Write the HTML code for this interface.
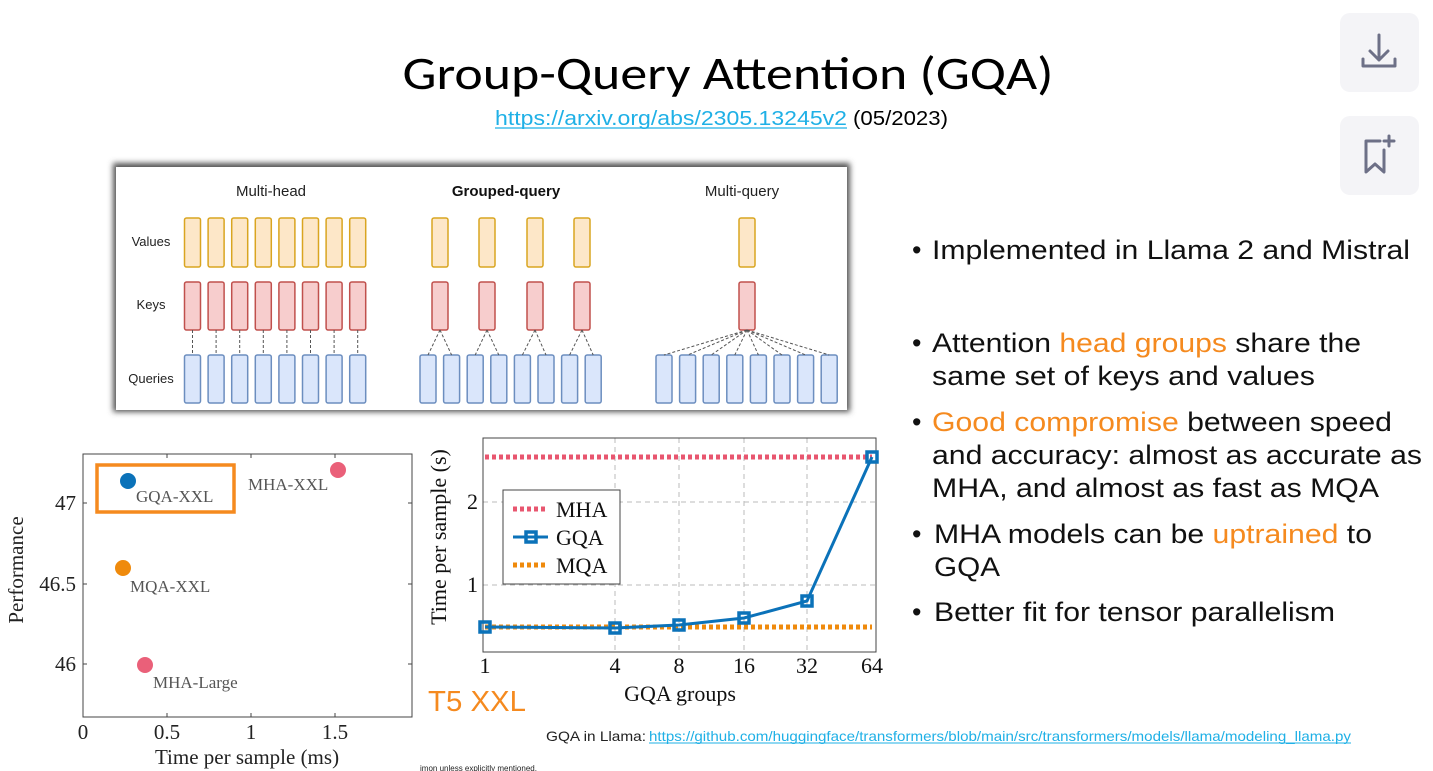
<!DOCTYPE html>
<html><head><meta charset="utf-8"><style>
html,body{margin:0;padding:0;background:#fff;width:1433px;height:771px;overflow:hidden}
svg{display:block}
</style></head><body>
<svg width="1433" height="771" viewBox="0 0 1433 771" xmlns="http://www.w3.org/2000/svg" font-family="Liberation Sans, sans-serif">
<defs>
<filter id="sh" x="-5%" y="-10%" width="110%" height="120%"><feGaussianBlur stdDeviation="3"/></filter>
</defs>
<text x="728" y="89" font-family="Carlito, Liberation Sans, sans-serif" font-size="46" text-anchor="middle" textLength="651" lengthAdjust="spacingAndGlyphs">Group-Query Attention (GQA)</text>
<text x="495" y="125" font-size="20" fill="#1fb0e6" textLength="352" lengthAdjust="spacingAndGlyphs">https://arxiv.org/abs/2305.13245v2</text>
<line x1="495" y1="128" x2="847" y2="128" stroke="#1fb0e6" stroke-width="1.3"/>
<text x="853" y="125" font-size="20" textLength="95" lengthAdjust="spacingAndGlyphs">(05/2023)</text>

<rect x="1340" y="13" width="79" height="79" rx="10" fill="#f4f4f7"/>
<g stroke="#6d7087" stroke-width="3" fill="none" stroke-linecap="round" stroke-linejoin="round">
<path d="M1379 35 V60 M1370 51 L1379 60 L1388 51"/>
<path d="M1363 59 V66 H1395 V59"/>
</g>
<rect x="1340" y="116" width="79" height="79" rx="10" fill="#f4f4f7"/>
<g stroke="#6d7087" stroke-width="3" fill="none" stroke-linecap="round" stroke-linejoin="round">
<path d="M1380 141 H1366 V172 L1375 164 L1384 172 V150"/>
<path d="M1389 136 V146 M1384 141 H1394"/>
</g>

<rect x="113" y="163" width="737" height="249" fill="#555" filter="url(#sh)"/>
<rect x="116" y="167" width="731" height="243" fill="#fff"/>
<text x="271" y="196" font-size="15" text-anchor="middle" fill="#222">Multi-head</text>
<text x="506" y="196" font-size="15" text-anchor="middle" font-weight="bold" fill="#111">Grouped-query</text>
<text x="742" y="196" font-size="15" text-anchor="middle" fill="#222">Multi-query</text>
<text x="151" y="246" font-size="13" text-anchor="middle" fill="#222">Values</text>
<text x="151" y="309" font-size="13" text-anchor="middle" fill="#222">Keys</text>
<text x="151" y="383" font-size="13" text-anchor="middle" fill="#222">Queries</text>

<g fill="#fde7c8" stroke="#d9a520" stroke-width="1.5">
<rect x="184.5" y="218" width="16" height="49" rx="2"/><rect x="208.1" y="218" width="16" height="49" rx="2"/><rect x="231.7" y="218" width="16" height="49" rx="2"/><rect x="255.3" y="218" width="16" height="49" rx="2"/><rect x="278.9" y="218" width="16" height="49" rx="2"/><rect x="302.5" y="218" width="16" height="49" rx="2"/><rect x="326.1" y="218" width="16" height="49" rx="2"/><rect x="349.7" y="218" width="16" height="49" rx="2"/>
<rect x="432" y="218" width="16" height="49" rx="2"/><rect x="479" y="218" width="16" height="49" rx="2"/><rect x="527" y="218" width="16" height="49" rx="2"/><rect x="574" y="218" width="16" height="49" rx="2"/>
<rect x="739" y="218" width="16" height="49" rx="2"/>
</g>
<g fill="#f7cdcd" stroke="#c0504d" stroke-width="1.5">
<rect x="184.5" y="282" width="16" height="48" rx="2"/><rect x="208.1" y="282" width="16" height="48" rx="2"/><rect x="231.7" y="282" width="16" height="48" rx="2"/><rect x="255.3" y="282" width="16" height="48" rx="2"/><rect x="278.9" y="282" width="16" height="48" rx="2"/><rect x="302.5" y="282" width="16" height="48" rx="2"/><rect x="326.1" y="282" width="16" height="48" rx="2"/><rect x="349.7" y="282" width="16" height="48" rx="2"/>
<rect x="432" y="282" width="16" height="48" rx="2"/><rect x="479" y="282" width="16" height="48" rx="2"/><rect x="527" y="282" width="16" height="48" rx="2"/><rect x="574" y="282" width="16" height="48" rx="2"/>
<rect x="739" y="282" width="16" height="48" rx="2"/>
</g>
<g fill="#dae6fb" stroke="#6c8ebf" stroke-width="1.5">
<rect x="184.5" y="355" width="16" height="48" rx="2"/><rect x="208.1" y="355" width="16" height="48" rx="2"/><rect x="231.7" y="355" width="16" height="48" rx="2"/><rect x="255.3" y="355" width="16" height="48" rx="2"/><rect x="278.9" y="355" width="16" height="48" rx="2"/><rect x="302.5" y="355" width="16" height="48" rx="2"/><rect x="326.1" y="355" width="16" height="48" rx="2"/><rect x="349.7" y="355" width="16" height="48" rx="2"/>
<rect x="420" y="355" width="16" height="48" rx="2"/><rect x="443.6" y="355" width="16" height="48" rx="2"/><rect x="467.2" y="355" width="16" height="48" rx="2"/><rect x="490.8" y="355" width="16" height="48" rx="2"/><rect x="514.4" y="355" width="16" height="48" rx="2"/><rect x="538" y="355" width="16" height="48" rx="2"/><rect x="561.6" y="355" width="16" height="48" rx="2"/><rect x="585.2" y="355" width="16" height="48" rx="2"/>
<rect x="656" y="355" width="16" height="48" rx="2"/><rect x="679.6" y="355" width="16" height="48" rx="2"/><rect x="703.2" y="355" width="16" height="48" rx="2"/><rect x="726.8" y="355" width="16" height="48" rx="2"/><rect x="750.4" y="355" width="16" height="48" rx="2"/><rect x="774" y="355" width="16" height="48" rx="2"/><rect x="797.6" y="355" width="16" height="48" rx="2"/><rect x="821.2" y="355" width="16" height="48" rx="2"/>
</g>
<g stroke="#555" stroke-width="1" stroke-dasharray="3,2" fill="none">
<path d="M192.5 330V355M216.1 330V355M239.7 330V355M263.3 330V355M286.9 330V355M310.5 330V355M334.1 330V355M357.7 330V355"/>
<path d="M440 330L428 355M440 330L451.6 355M487 330L475.2 355M487 330L498.8 355M535 330L522.4 355M535 330L546 355M582 330L569.6 355M582 330L593.2 355"/>
<path d="M747 330L664 355M747 330L687.6 355M747 330L711.2 355M747 330L734.8 355M747 330L758.4 355M747 330L782 355M747 330L805.6 355M747 330L829.2 355"/>
</g>

<g font-family="Liberation Serif, serif" fill="#222">
<rect x="83" y="454" width="329" height="263" fill="none" stroke="#444" stroke-width="1"/>
<g stroke="#444" stroke-width="1"><path d="M167 717v-4M251 717v-4M335 717v-4M83 503h4M83 584h4M83 664h4M412 503h-4M412 584h-4M412 664h-4M167 454v4M251 454v4M335 454v4"/></g>
<text x="83" y="739" font-size="21" text-anchor="middle">0</text>
<text x="167" y="739" font-size="21" text-anchor="middle">0.5</text>
<text x="251" y="739" font-size="21" text-anchor="middle">1</text>
<text x="335" y="739" font-size="21" text-anchor="middle">1.5</text>
<text x="76" y="510" font-size="21" text-anchor="end">47</text>
<text x="76" y="591" font-size="21" text-anchor="end">46.5</text>
<text x="76" y="671" font-size="21" text-anchor="end">46</text>
<text x="247" y="764" font-size="21" text-anchor="middle">Time per sample (ms)</text>
<text transform="translate(23,570) rotate(-90)" font-size="21" text-anchor="middle">Performance</text>
<rect x="97" y="465" width="137" height="47" fill="none" stroke="#f58a1f" stroke-width="3.5"/>
<circle cx="128" cy="481" r="8" fill="#0b72b9"/>
<circle cx="123" cy="568" r="8" fill="#ef8a0c"/>
<circle cx="338" cy="470" r="8" fill="#ea6079"/>
<circle cx="145" cy="665" r="8" fill="#ea6079"/>
<text x="136" y="502" font-size="17" fill="#555">GQA-XXL</text>
<text x="248" y="490" font-size="17" fill="#555">MHA-XXL</text>
<text x="130" y="592" font-size="17" fill="#555">MQA-XXL</text>
<text x="153" y="688" font-size="17" fill="#555">MHA-Large</text>
</g>

<g font-family="Liberation Serif, serif" fill="#111">
<g stroke="#bbb" stroke-width="1" stroke-dasharray="5,4">
<path d="M483 502H876M483 585H876M615 438V652M679 438V652M744 438V652M807 438V652"/>
</g>
<rect x="483" y="438" width="393" height="214" fill="none" stroke="#444" stroke-width="1"/>
<line x1="485" y1="457" x2="872" y2="457" stroke="#e8566f" stroke-width="5" stroke-dasharray="4,3"/>
<line x1="485" y1="627" x2="872" y2="627" stroke="#ef8a0c" stroke-width="5" stroke-dasharray="4,3"/>
<polyline points="485,627 615,628 679,625 744,618 807,601 872,457" fill="none" stroke="#0b72b9" stroke-width="3"/>
<g fill="none" stroke="#0b72b9" stroke-width="3.5">
<rect x="480" y="622" width="10" height="10"/><rect x="610" y="623" width="10" height="10"/><rect x="674" y="620" width="10" height="10"/><rect x="739" y="613" width="10" height="10"/><rect x="802" y="596" width="10" height="10"/><rect x="867" y="452" width="10" height="10"/>
</g>
<text x="485" y="673" font-size="22" text-anchor="middle">1</text>
<text x="615" y="673" font-size="22" text-anchor="middle">4</text>
<text x="679" y="673" font-size="22" text-anchor="middle">8</text>
<text x="744" y="673" font-size="22" text-anchor="middle">16</text>
<text x="807" y="673" font-size="22" text-anchor="middle">32</text>
<text x="872" y="673" font-size="22" text-anchor="middle">64</text>
<text x="478" y="509" font-size="22" text-anchor="end">2</text>
<text x="478" y="592" font-size="22" text-anchor="end">1</text>
<text x="680" y="701" font-size="22" text-anchor="middle">GQA groups</text>
<text transform="translate(446,537) rotate(-90)" font-size="22" text-anchor="middle">Time per sample (s)</text>
<rect x="503" y="490" width="117" height="94" fill="#fff" stroke="#444" stroke-width="1"/>
<line x1="513" y1="509" x2="548" y2="509" stroke="#e8566f" stroke-width="5" stroke-dasharray="4,3"/>
<line x1="513" y1="537" x2="548" y2="537" stroke="#0b72b9" stroke-width="3"/>
<rect x="526" y="532" width="10" height="10" fill="none" stroke="#0b72b9" stroke-width="3.5"/>
<line x1="513" y1="565" x2="548" y2="565" stroke="#ef8a0c" stroke-width="5" stroke-dasharray="4,3"/>
<text x="556" y="517" font-size="22">MHA</text>
<text x="556" y="545" font-size="22">GQA</text>
<text x="556" y="573" font-size="22">MQA</text>
</g>
<text x="428" y="711" font-size="29" fill="#f58a1f" textLength="98" lengthAdjust="spacingAndGlyphs">T5 XXL</text>

<text x="546" y="741" font-size="14" fill="#222" textLength="100" lengthAdjust="spacingAndGlyphs">GQA in Llama:</text>
<text x="649" y="741" font-size="14" fill="#1fb0e6" textLength="702" lengthAdjust="spacingAndGlyphs">https://github.com/huggingface/transformers/blob/main/src/transformers/models/llama/modeling_llama.py</text>
<line x1="649" y1="743" x2="1351" y2="743" stroke="#1fb0e6" stroke-width="1"/>
<text x="420" y="771" font-size="8" fill="#222">imon unless explicitly mentioned.</text>

<g font-size="27" fill="#111">
<text x="912" y="259">•</text><text x="932" y="259" textLength="478" lengthAdjust="spacingAndGlyphs">Implemented in Llama 2 and Mistral</text>
<text x="912" y="352">•</text><text x="932" y="352" textLength="429" lengthAdjust="spacingAndGlyphs">Attention <tspan fill="#f58a1f">head groups</tspan> share the</text>
<text x="932" y="385" textLength="383" lengthAdjust="spacingAndGlyphs">same set of keys and values</text>
<text x="912" y="431">•</text><text x="932" y="431" textLength="460" lengthAdjust="spacingAndGlyphs"><tspan fill="#f58a1f">Good compromise</tspan> between speed</text>
<text x="932" y="464" textLength="490" lengthAdjust="spacingAndGlyphs">and accuracy: almost as accurate as</text>
<text x="932" y="497" textLength="447" lengthAdjust="spacingAndGlyphs">MHA, and almost as fast as MQA</text>
<text x="912" y="543">•</text><text x="934" y="543" textLength="438" lengthAdjust="spacingAndGlyphs">MHA models can be <tspan fill="#f58a1f">uptrained</tspan> to</text>
<text x="934" y="576" textLength="66" lengthAdjust="spacingAndGlyphs">GQA</text>
<text x="912" y="621">•</text><text x="934" y="621" textLength="401" lengthAdjust="spacingAndGlyphs">Better fit for tensor parallelism</text>
</g>
</svg>
</body></html>
